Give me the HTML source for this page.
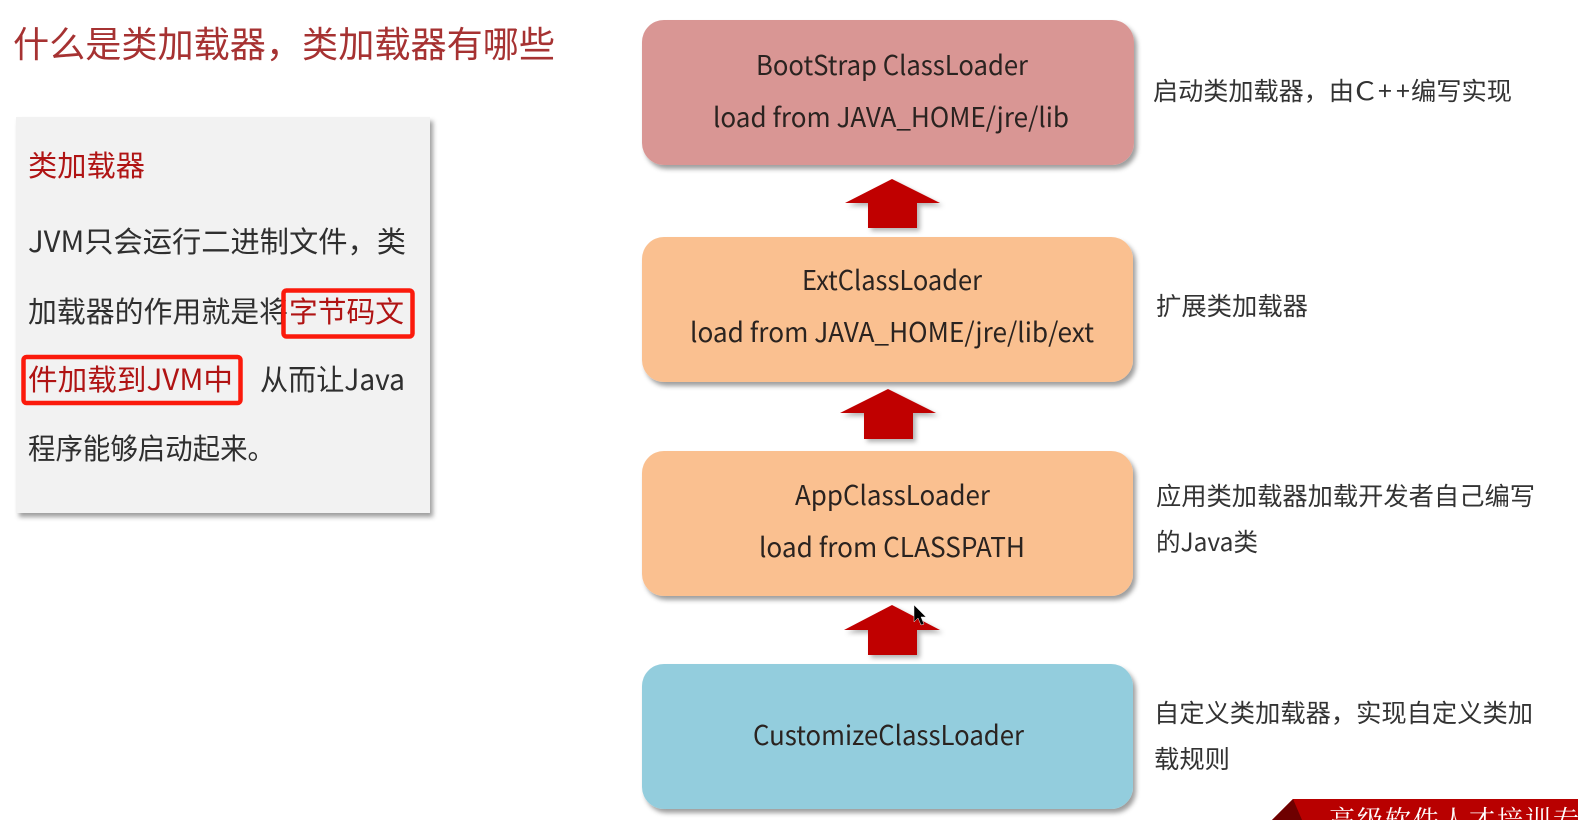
<!DOCTYPE html>
<html lang="zh-CN">
<head>
<meta charset="utf-8">
<title>什么是类加载器</title>
<style>
html,body{margin:0;padding:0;background:#fff;width:1578px;height:820px;overflow:hidden}
svg{display:block;position:absolute;left:0;top:0}
text{font-family:"Noto Sans CJK SC","Liberation Sans",sans-serif;fill:#2b2b2b}
.box{font-size:27px;fill:#2a2320}
.side{font-size:25px;fill:#333}
.body{font-size:29px;fill:#2f2f2f}
</style>
</head>
<body>
<svg width="1578" height="820" viewBox="0 0 1578 820" xmlns="http://www.w3.org/2000/svg">
<defs>
<filter id="s" x="-10%" y="-20%" width="120%" height="140%">
<feDropShadow dx="3" dy="4" stdDeviation="2.5" flood-color="#000" flood-opacity="0.38"/>
</filter>
<filter id="a" x="-20%" y="-20%" width="140%" height="140%">
<feDropShadow dx="3" dy="3" stdDeviation="2.5" flood-color="#000" flood-opacity="0.3"/>
</filter>
</defs>
<rect width="1578" height="820" fill="#fff"/>

<text x="13" y="57" font-size="36" style="fill:#a63232" textLength="542" lengthAdjust="spacingAndGlyphs">什么是类加载器，类加载器有哪些</text>

<rect x="16" y="117" width="414" height="396" fill="#f2f2f2" filter="url(#s)"/>
<text x="28" y="176" font-size="29" style="fill:#b01414" textLength="117" lengthAdjust="spacingAndGlyphs">类加载器</text>
<text class="body" x="28" y="252" textLength="378" lengthAdjust="spacingAndGlyphs">JVM只会运行二进制文件，类</text>
<text class="body" x="28" y="322" textLength="260" lengthAdjust="spacingAndGlyphs">加载器的作用就是将</text>
<text x="289" y="322" font-size="29" style="fill:#b01414" textLength="115" lengthAdjust="spacingAndGlyphs">字节码文</text>
<text x="28" y="390" font-size="29" style="fill:#b01414" textLength="205" lengthAdjust="spacingAndGlyphs">件加载到JVM中</text>
<text class="body" x="260" y="390" textLength="145" lengthAdjust="spacingAndGlyphs">从而让Java</text>
<text class="body" x="28" y="459" textLength="247" lengthAdjust="spacingAndGlyphs">程序能够启动起来。</text>
<rect x="283.5" y="290.5" width="129" height="46" rx="3" fill="none" stroke="#fb1a0c" stroke-width="4.5"/>
<rect x="23.5" y="357" width="217" height="46" rx="3" fill="none" stroke="#fb1a0c" stroke-width="4.5"/>

<rect x="642" y="20" width="492" height="145" rx="22" fill="#d99694" filter="url(#s)"/>
<rect x="642" y="237" width="491" height="145" rx="22" fill="#fac090" filter="url(#s)"/>
<rect x="642" y="451" width="491" height="145" rx="22" fill="#fac090" filter="url(#s)"/>
<rect x="642" y="664" width="491" height="145" rx="22" fill="#93cddd" filter="url(#s)"/>

<text class="box" x="756" y="75" textLength="272" lengthAdjust="spacingAndGlyphs">BootStrap ClassLoader</text>
<text class="box" x="713" y="127" textLength="356" lengthAdjust="spacingAndGlyphs">load from JAVA_HOME/jre/lib</text>
<text class="box" x="802" y="290" textLength="180" lengthAdjust="spacingAndGlyphs">ExtClassLoader</text>
<text class="box" x="690" y="342" textLength="404" lengthAdjust="spacingAndGlyphs">load from JAVA_HOME/jre/lib/ext</text>
<text class="box" x="795" y="505" textLength="195" lengthAdjust="spacingAndGlyphs">AppClassLoader</text>
<text class="box" x="759" y="557" textLength="266" lengthAdjust="spacingAndGlyphs">load from CLASSPATH</text>
<text class="box" x="753" y="745" textLength="271" lengthAdjust="spacingAndGlyphs">CustomizeClassLoader</text>

<polygon points="892,179 940,203 917,203 917,228 868,228 868,203 845,203" fill="#c00000" filter="url(#a)"/>
<polygon points="888,389 936,413 913,413 913,439 864,439 864,413 840,413" fill="#c00000" filter="url(#a)"/>
<polygon points="892,605 940,630 917,630 917,655 868,655 868,630 844,630" fill="#c00000" filter="url(#a)"/>

<polygon points="914,605 914,622 918,618 921,625 924,624 921,617 926,617" fill="#000" stroke="#eee" stroke-width="0.5"/>

<text class="side" x="1153" y="100" textLength="201" lengthAdjust="spacingAndGlyphs">启动类加载器，由</text>
<text class="side" x="1355" y="100" textLength="20" lengthAdjust="spacingAndGlyphs">C</text>
<text class="side" x="1378" y="100">+</text>
<text class="side" x="1396" y="100">+</text>
<text class="side" x="1411" y="100" textLength="101" lengthAdjust="spacingAndGlyphs">编写实现</text>
<text class="side" x="1156" y="315" textLength="152" lengthAdjust="spacingAndGlyphs">扩展类加载器</text>
<text class="side" x="1156" y="505" textLength="379" lengthAdjust="spacingAndGlyphs">应用类加载器加载开发者自己编写</text>
<text class="side" x="1156" y="551" textLength="102" lengthAdjust="spacingAndGlyphs">的Java类</text>
<text class="side" x="1154" y="722" textLength="379" lengthAdjust="spacingAndGlyphs">自定义类加载器，实现自定义类加</text>
<text class="side" x="1154" y="768" textLength="76" lengthAdjust="spacingAndGlyphs">载规则</text>

<polygon points="1293,799 1578,799 1578,820 1272,820" fill="#b80000"/>
<polygon points="1293,799 1302,820 1272,820" fill="#6e0000"/>
<text x="1329" y="829" font-size="26" style="font-family:'Noto Serif CJK SC','Liberation Serif',serif;fill:#fff;letter-spacing:2px">高级软件人才培训专家</text>
</svg>
</body>
</html>
